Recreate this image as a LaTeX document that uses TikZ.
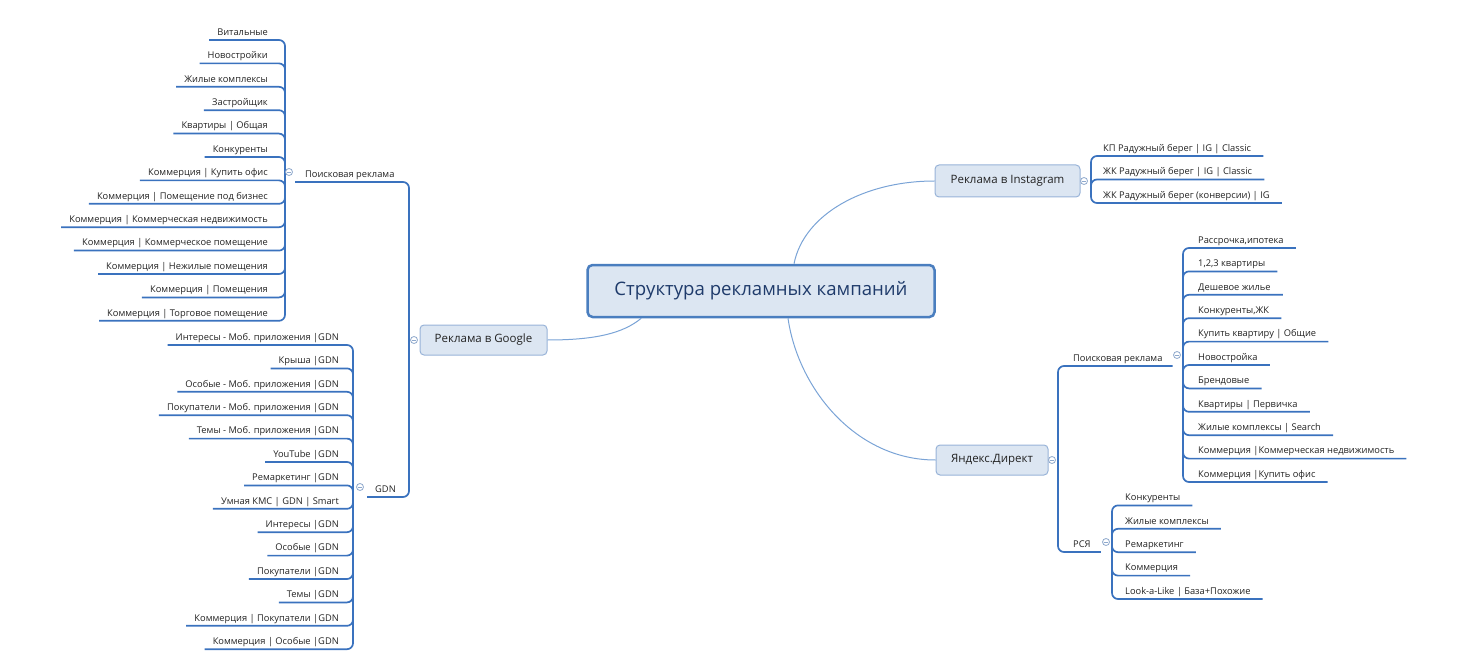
\documentclass[tikz,border=0pt]{standalone}
\usepackage{fontspec}
\setmainfont{Open Sans}
\usetikzlibrary{calc}
\definecolor{lnblue}{HTML}{3A72BE}
\definecolor{mainln}{HTML}{7AA3D6}
\definecolor{boxfill}{HTML}{DCE6F2}
\definecolor{boxdraw}{HTML}{4A7EBF}
\definecolor{subdraw}{HTML}{98B3D8}
\definecolor{cmark}{HTML}{8EA8CC}
\definecolor{titlec}{HTML}{1F3B6B}
\definecolor{txt}{HTML}{222222}
\begin{document}
\begin{tikzpicture}[x=1pt,y=-1pt,
  leaf/.style={font=\fontsize{9.3}{11}\selectfont, text=txt, inner xsep=6pt, inner ysep=2.5pt, text height=7pt, text depth=2pt},
  lleaf/.style={leaf, anchor=south east},
  rleaf/.style={leaf, anchor=south west},
  branch/.style={draw=lnblue, line width=1.7pt, rounded corners=6pt},
  mainline/.style={draw=mainln, line width=1pt},
  rootbox/.style={draw=boxdraw, line width=2.5pt, fill=boxfill, rounded corners=5pt, text=titlec, font=\fontsize{18.6}{21}\selectfont, inner sep=0pt},
  topbox/.style={draw=subdraw, line width=1pt, fill=boxfill, rounded corners=4pt, text=txt, inner sep=0pt},
  collapse/.style={circle, draw=cmark, fill=white, line width=0.8pt, inner sep=0pt, minimum size=7pt,
    path picture={\draw[cmark, line width=0.7pt] ([xshift=-2pt]path picture bounding box.center) -- ([xshift=2pt]path picture bounding box.center);}}
]
\useasboundingbox (0,0) rectangle (1479,660);

% ---------- main boxes ----------
\node[rootbox, minimum width=347pt, minimum height=52pt] (ctr) at (761,291) {Структура рекламных кампаний};
\node[topbox, minimum width=127pt, minimum height=30pt, font=\fontsize{11.5}{13}\selectfont] (google) at (483.5,340) {Реклама в Google};
\node[topbox, minimum width=145pt, minimum height=32pt, font=\fontsize{11.5}{13}\selectfont] (insta) at (1007.5,181) {Реклама в Instagram};
\node[topbox, minimum width=112pt, minimum height=30pt, font=\fontsize{11.5}{13}\selectfont] (yandex) at (992,460) {Яндекс.Директ};

\draw[mainline] ($(ctr.south west)+(55,0)$) .. controls +(-18,15) and +(48,0) .. (google.east);
\draw[mainline] ($(ctr.north)+(33,0)$) .. controls +(10,-50) and +(-70,0) .. (insta.west);
\draw[mainline] ($(ctr.south)+(27,0)$) .. controls +(10,70) and +(-80,0) .. (yandex.west);

% ---------- hubs ----------
\coordinate (ghub) at (409,340);
\coordinate (shub) at (285,182);
\coordinate (gdnhub) at (353,497);
\coordinate (ihub) at (1091,181);
\coordinate (yhub) at (1058,460);
\coordinate (yshub) at (1183,366);
\coordinate (rhub) at (1112,552);

% ---------- Google ----------
\node[leaf, anchor=south west, inner xsep=10pt] (gsearch) at (295,182) {Поисковая реклама};
\node[leaf, anchor=south west, inner xsep=8pt] (gdn) at (367,497) {GDN};
\draw[branch] (ghub) |- (gsearch.south west);
\draw[branch] (ghub) |- (gdn.south west);

\foreach \t [count=\i] in {Витальные, Новостройки, Жилые комплексы, Застройщик, Квартиры | Общая, Конкуренты, Коммерция | Купить офис, Коммерция | Помещение под бизнес, Коммерция | Коммерческая недвижимость, Коммерция | Коммерческое помещение, Коммерция | Нежилые помещения, Коммерция | Помещения, Коммерция | Торговое помещение}{
  \node[lleaf] (s\i) at (274,{40+23.4*(\i-1)}) {\t};
  \draw[branch] (shub) |- ($(s\i.south west)+(-2,0)$);
}

\foreach \t [count=\i] in {Интересы - Моб. приложения |GDN, Крыша |GDN, Особые - Моб. приложения |GDN, Покупатели - Моб. приложения |GDN, Темы - Моб. приложения |GDN, YouTube |GDN, Ремаркетинг |GDN, Умная КМС | GDN | Smart, Интересы |GDN, Особые |GDN, Покупатели |GDN, Темы |GDN, Коммерция | Покупатели |GDN, Коммерция | Особые |GDN}{
  \node[lleaf] (g\i) at (345,{345+23.4*(\i-1)}) {\t};
  \draw[branch] (gdnhub) |- ($(g\i.south west)+(-2,0)$);
}

% ---------- Instagram ----------
\foreach \t [count=\i] in {КП Радужный берег | IG | Classic, ЖК Радужный берег | IG | Classic, ЖК Радужный берег (конверсии) | IG}{
  \node[rleaf] (i\i) at (1097,{156+23.5*(\i-1)}) {\t};
  \draw[branch] (ihub) |- ($(i\i.south east)+(6,0)$);
}

% ---------- Yandex ----------
\node[leaf, anchor=south west, inner xsep=10pt] (ysearch) at (1063,366) {Поисковая реклама};
\node[leaf, anchor=south west, inner xsep=10pt] (rsya) at (1063,552) {РСЯ};
\draw[branch] (yhub) |- (ysearch.south east);
\draw[branch] (yhub) |- (rsya.south east);

\foreach \t [count=\i] in {{Рассрочка,ипотека}, {1,2,3 квартиры}, Дешевое жилье, {Конкуренты,ЖК}, Купить квартиру | Общие, Новостройка, Брендовые, Квартиры | Первичка, Жилые комплексы | Search, Коммерция |Коммерческая недвижимость, Коммерция |Купить офис}{
  \node[rleaf] (y\i) at (1192,{248+23.4*(\i-1)}) {\t};
  \draw[branch] (yshub) |- ($(y\i.south east)+(6,0)$);
}

\foreach \t [count=\i] in {Конкуренты, Жилые комплексы, Ремаркетинг, Коммерция, Look-a-Like | База+Похожие}{
  \node[rleaf] (r\i) at (1119,{505.4+23.4*(\i-1)}) {\t};
  \draw[branch] (rhub) |- ($(r\i.south east)+(6,0)$);
}

% ---------- collapse markers ----------
\node[collapse] (cg) at (414,340) {};
\node[collapse] (cs) at (289,172) {};
\node[collapse] (cgdn) at (360,487) {};
\node[collapse] (ci) at (1084,181) {};
\node[collapse] (cy) at (1052,460) {};
\node[collapse] (cys) at (1177,355) {};
\node[collapse] (cr) at (1106,542) {};
\end{tikzpicture}
\end{document}
